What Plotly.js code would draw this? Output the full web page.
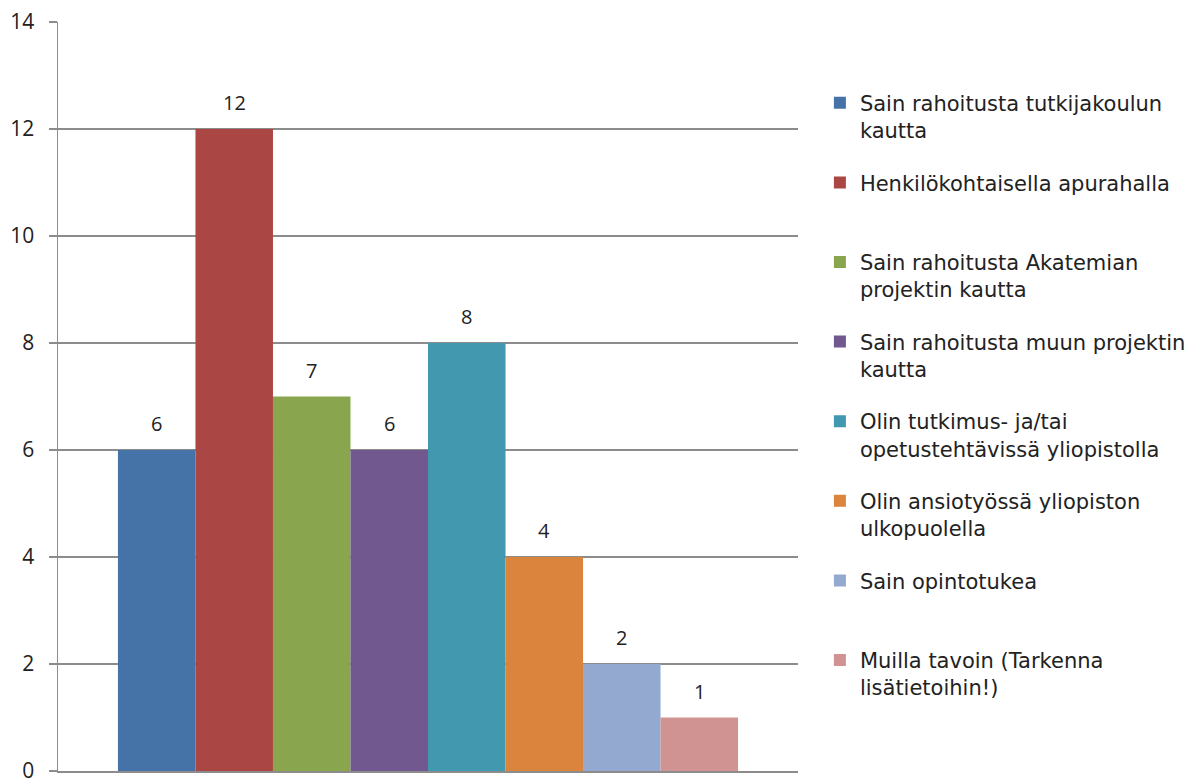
<!DOCTYPE html>
<html>
<head>
<meta charset="utf-8">
<script src="https://cdn.plot.ly/plotly-3.0.1.min.js"></script>
<style>html,body{margin:0;padding:0;background:#fff;}#chart{width:1203px;height:784px;}</style>
</head>
<body>
<div id="chart"></div>
<script>
const categories = [""];
const seriesNames = [
  "Sain rahoitusta tutkijakoulun<br>kautta",
  "Henkilökohtaisella apurahalla<br> ",
  "Sain rahoitusta Akatemian<br>projektin kautta",
  "Sain rahoitusta muun projektin<br>kautta",
  "Olin tutkimus- ja/tai<br>opetustehtävissä yliopistolla",
  "Olin ansiotyössä yliopiston<br>ulkopuolella",
  "Sain opintotukea<br> ",
  "Muilla tavoin (Tarkenna<br>lisätietoihin!)"
];
const seriesValues = [6, 12, 7, 6, 8, 4, 2, 1];
const seriesColors = ["#4572A7", "#AA4643", "#89A54E", "#71588F", "#4198AF", "#DB843D", "#93A9CF", "#D19392"];
const yTicks = [0, 2, 4, 6, 8, 10, 12, 14];

const fontFam = "Open Sans, sans-serif";
const legendFam = "DejaVu Sans, sans-serif";
const barGap = 0.162;
const groupW = 1 - barGap;
const nSeries = seriesValues.length;

const traces = seriesNames.map((name, i) => ({
  type: "bar",
  name: name,
  x: categories,
  y: [seriesValues[i]],
  legendgroup: "g" + i,
  marker: {color: seriesColors[i], line: {width: 0}},
  hoverinfo: "none"
}));

// value labels above each bar (position derived from the group layout of the category axis)
const annotations = seriesValues.map((v, i) => ({
  xref: "x", yref: "y",
  x: -groupW / 2 + (i + 0.5) * groupW / nSeries,
  y: v,
  text: String(v),
  showarrow: false,
  yanchor: "bottom",
  yshift: 11,
  font: {family: fontFam, size: 20, color: "#222"}
}));

const layout = {
  width: 1203, height: 784,
  margin: {l: 58, r: 405, t: 22, b: 13, pad: 0},
  paper_bgcolor: "#fff", plot_bgcolor: "#fff",
  barmode: "group",
  bargap: barGap,
  bargroupgap: 0,
  showlegend: true,
  legend: {
    x: 1.0296, xanchor: "left", y: 0.919, yanchor: "top",
    valign: "top",
    tracegroupgap: 22,
    font: {family: legendFam, size: 21, color: "#222"},
    bgcolor: "rgba(0,0,0,0)"
  },
  annotations: annotations,
  xaxis: {
    type: "category",
    showticklabels: false, ticks: "",
    showgrid: false, zeroline: false,
    showline: true, linecolor: "#8c8c8c", linewidth: 1.5,
    fixedrange: true
  },
  yaxis: {
    range: [0, 14], tickvals: yTicks, ticktext: yTicks.map(String),
    showgrid: true, gridcolor: "#8c8c8c", gridwidth: 1.5,
    zeroline: false,
    showline: true, linecolor: "#8c8c8c", linewidth: 1.5,
    ticks: "outside", ticklen: 8, tickcolor: "#8c8c8c", tickwidth: 1.5,
    tickfont: {family: fontFam, size: 21, color: "#222"},
    ticklabelstandoff: 10,
    ticklabeloverflow: "allow",
    fixedrange: true
  }
};

Plotly.newPlot("chart", traces, layout, {displayModeBar: false, staticPlot: true});
</script>
</body>
</html>
